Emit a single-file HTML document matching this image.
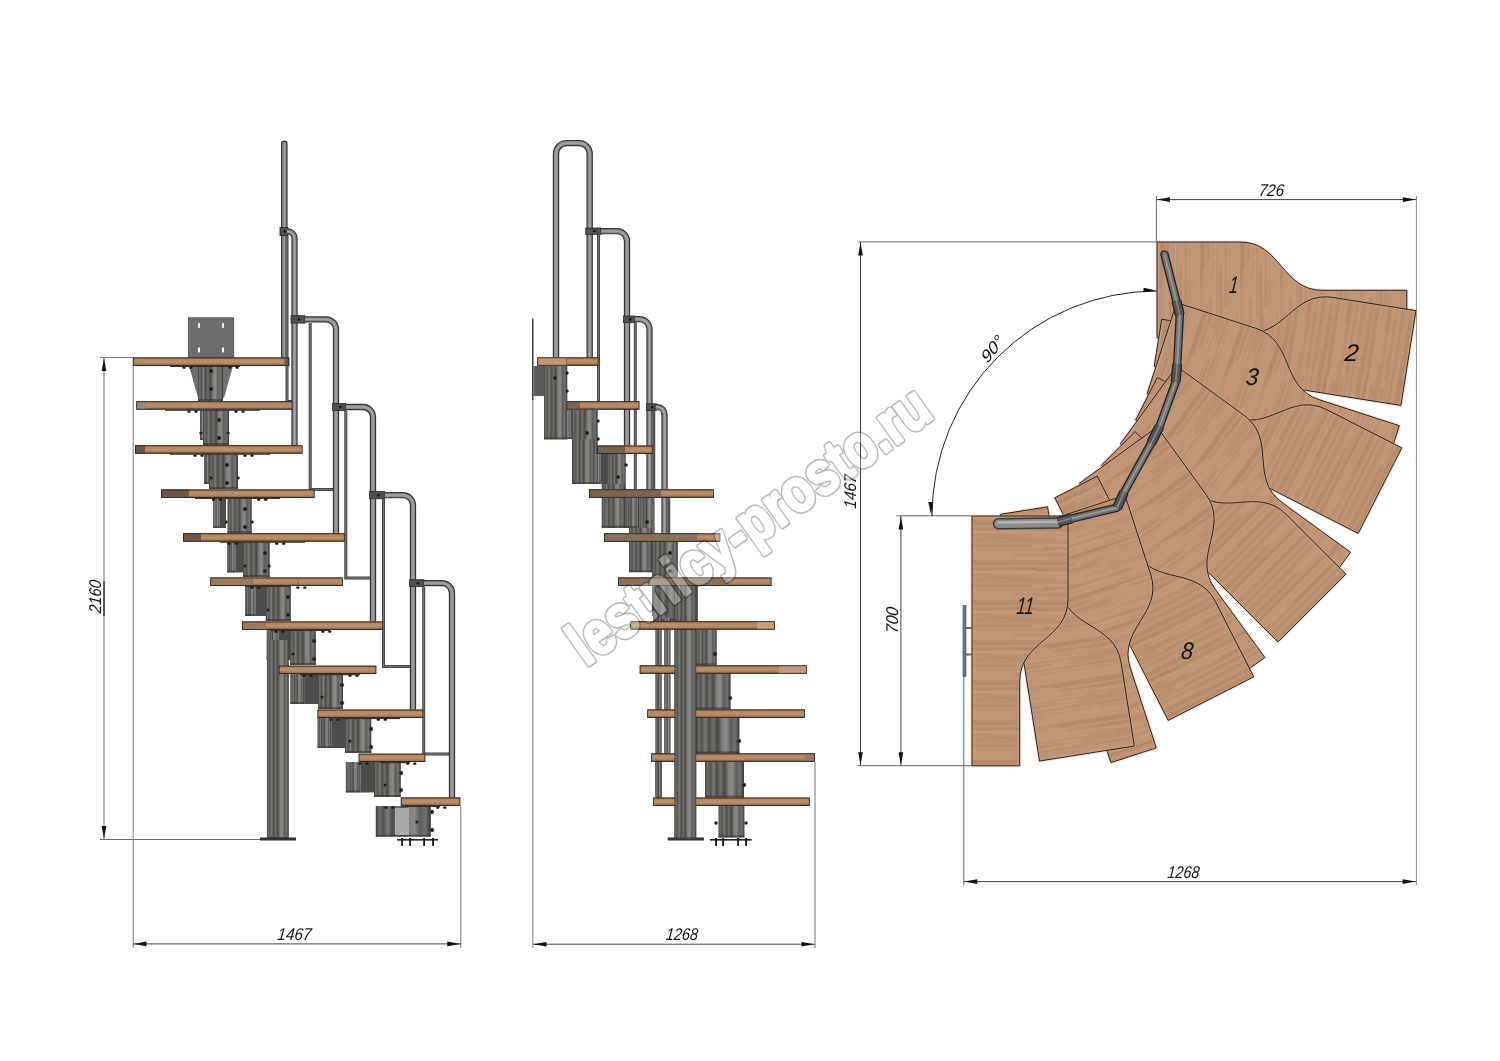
<!DOCTYPE html>
<html><head><meta charset="utf-8"><style>
html,body{margin:0;padding:0;background:#fff;}
body{width:1500px;height:1061px;overflow:hidden;}
svg{display:block;will-change:transform;}
</style></head><body>
<svg width="1500" height="1061" viewBox="0 0 1500 1061">
<rect width="1500" height="1061" fill="#fff"/>

<defs>
 <linearGradient id="tr" x1="0" y1="0" x2="0" y2="1">
  <stop offset="0" stop-color="#6a5848"/><stop offset="0.18" stop-color="#b08660"/>
  <stop offset="0.5" stop-color="#bb8f69"/><stop offset="0.8" stop-color="#aa7f5c"/>
  <stop offset="1" stop-color="#463428"/>
 </linearGradient>
 <linearGradient id="trd" x1="0" y1="0" x2="0" y2="1">
  <stop offset="0" stop-color="#6f6052"/><stop offset="0.2" stop-color="#8c6e58"/>
  <stop offset="0.8" stop-color="#86674f"/><stop offset="1" stop-color="#4a3a2e"/>
 </linearGradient>
 <linearGradient id="met" x1="0" y1="0" x2="1" y2="0">
  <stop offset="0" stop-color="#3e3e3c"/><stop offset="0.06" stop-color="#6c6c6a"/>
  <stop offset="0.14" stop-color="#565552"/><stop offset="0.22" stop-color="#7c7b79"/>
  <stop offset="0.3" stop-color="#4d4c49"/><stop offset="0.4" stop-color="#706f6d"/>
  <stop offset="0.5" stop-color="#4a4945"/><stop offset="0.6" stop-color="#7e7d7b"/>
  <stop offset="0.7" stop-color="#8c8b89"/><stop offset="0.8" stop-color="#5e5d5b"/>
  <stop offset="0.9" stop-color="#737270"/><stop offset="1" stop-color="#383735"/>
 </linearGradient>
 <linearGradient id="metd" x1="0" y1="0" x2="1" y2="0">
  <stop offset="0" stop-color="#3f3f3d"/><stop offset="0.3" stop-color="#55544f"/>
  <stop offset="0.7" stop-color="#4e4d4a"/><stop offset="1" stop-color="#3a3937"/>
 </linearGradient>
 <linearGradient id="plate" x1="0" y1="0" x2="1" y2="0">
  <stop offset="0" stop-color="#6a6a6a"/><stop offset="1" stop-color="#777"/>
 </linearGradient>
 <linearGradient id="hr" x1="0" y1="0" x2="0" y2="1">
  <stop offset="0" stop-color="#4a4a4a"/><stop offset="0.45" stop-color="#9a9a9a"/><stop offset="1" stop-color="#3c3c3c"/>
 </linearGradient>
</defs>

<line x1="100" y1="357.5" x2="133" y2="357.5" stroke="#777" stroke-width="1.0"/>
<line x1="104" y1="357.5" x2="104" y2="839.5" stroke="#888" stroke-width="1.2"/>
<line x1="104" y1="581" x2="104" y2="616" stroke="#222" stroke-width="1.2"/>
<polygon points="104.0,358.0 106.3,371.0 101.7,371.0" fill="#111"/>
<polygon points="104.0,839.0 101.7,826.0 106.3,826.0" fill="#111"/>
<line x1="100" y1="839.5" x2="262" y2="839.5" stroke="#666" stroke-width="1.0"/>
<line x1="133.2" y1="357.5" x2="133.2" y2="948" stroke="#888" stroke-width="1.1"/>
<line x1="460.8" y1="806" x2="460.8" y2="948" stroke="#777" stroke-width="1.0"/>
<line x1="133" y1="943.9" x2="460.8" y2="943.9" stroke="#444" stroke-width="1.0"/>
<polygon points="133.5,943.9 146.5,941.6 146.5,946.2" fill="#111"/>
<polygon points="460.3,943.9 447.3,946.2 447.3,941.6" fill="#111"/>
<text x="0" y="0" transform="translate(294,940) rotate(0) skewX(-6)" font-family="Liberation Sans" font-style="italic" font-size="17" fill="#111" text-anchor="middle" textLength="34" lengthAdjust="spacingAndGlyphs">1467</text>
<text x="0" y="0" transform="translate(101.3,597) rotate(-90) skewX(-6)" font-family="Liberation Sans" font-style="italic" font-size="17" fill="#111" text-anchor="middle" textLength="33" lengthAdjust="spacingAndGlyphs">2160</text>
<rect x="188.3" y="317.8" width="45.5" height="39.7" fill="#6c6c6c" stroke="#444" stroke-width="0.7"/>
<ellipse cx="199" cy="325.4" rx="1.7" ry="3.2" fill="#fff" stroke="#333" stroke-width="0.6"/>
<ellipse cx="223" cy="325.4" rx="1.7" ry="3.2" fill="#fff" stroke="#333" stroke-width="0.6"/>
<ellipse cx="199" cy="350" rx="1.7" ry="3.2" fill="#fff" stroke="#333" stroke-width="0.6"/>
<ellipse cx="223" cy="350" rx="1.7" ry="3.2" fill="#fff" stroke="#333" stroke-width="0.6"/>
<polygon points="189,366 233,366 224,398 198,398" fill="#6e6e6e"/>
<rect x="198" y="366" width="25.0" height="35.0" fill="url(#met)"/>
<rect x="198" y="399.0" width="25.0" height="2" fill="#333" opacity="0.6"/>
<circle cx="211" cy="371" r="1.95" fill="#1a1a1a" stroke="#555" stroke-width="0.5"/>
<circle cx="211" cy="389" r="1.95" fill="#1a1a1a" stroke="#555" stroke-width="0.5"/>
<rect x="200.0" y="410.0" width="3.5" height="30.0" fill="url(#met)"/>
<rect x="200.0" y="438.0" width="3.5" height="2" fill="#333" opacity="0.6"/>
<rect x="203.5" y="410.0" width="3.5" height="30.0" fill="#4d4c4a"/>
<rect x="203" y="410" width="26.0" height="35.0" fill="url(#met)"/>
<rect x="203" y="443.0" width="26.0" height="2" fill="#333" opacity="0.6"/>
<circle cx="219" cy="420" r="1.95" fill="#1a1a1a" stroke="#555" stroke-width="0.5"/>
<circle cx="219" cy="438" r="1.95" fill="#1a1a1a" stroke="#555" stroke-width="0.5"/>
<circle cx="201" cy="433" r="1.56" fill="#1a1a1a" stroke="#555" stroke-width="0.5"/>
<circle cx="228" cy="433" r="1.56" fill="#1a1a1a" stroke="#555" stroke-width="0.5"/>
<rect x="204.0" y="454.0" width="5.5" height="30.0" fill="url(#met)"/>
<rect x="204.0" y="482.0" width="5.5" height="2" fill="#333" opacity="0.6"/>
<rect x="209.5" y="454.0" width="5.5" height="30.0" fill="#4d4c4a"/>
<rect x="209" y="454" width="29.0" height="35.0" fill="url(#met)"/>
<rect x="209" y="487.0" width="29.0" height="2" fill="#333" opacity="0.6"/>
<circle cx="227" cy="465" r="1.95" fill="#1a1a1a" stroke="#555" stroke-width="0.5"/>
<circle cx="227" cy="483" r="1.95" fill="#1a1a1a" stroke="#555" stroke-width="0.5"/>
<circle cx="211" cy="478" r="1.56" fill="#1a1a1a" stroke="#555" stroke-width="0.5"/>
<circle cx="238" cy="478" r="1.56" fill="#1a1a1a" stroke="#555" stroke-width="0.5"/>
<rect x="213.0" y="498.0" width="6.5" height="30.0" fill="url(#met)"/>
<rect x="213.0" y="526.0" width="6.5" height="2" fill="#333" opacity="0.6"/>
<rect x="219.5" y="498.0" width="6.5" height="30.0" fill="#4d4c4a"/>
<rect x="227.5" y="498" width="24.2" height="35.0" fill="url(#met)"/>
<rect x="227.5" y="531.0" width="24.2" height="2" fill="#333" opacity="0.6"/>
<circle cx="245" cy="509" r="1.95" fill="#1a1a1a" stroke="#555" stroke-width="0.5"/>
<circle cx="245" cy="527" r="1.95" fill="#1a1a1a" stroke="#555" stroke-width="0.5"/>
<circle cx="226" cy="522" r="1.56" fill="#1a1a1a" stroke="#555" stroke-width="0.5"/>
<circle cx="252" cy="522" r="1.56" fill="#1a1a1a" stroke="#555" stroke-width="0.5"/>
<rect x="227.0" y="542.0" width="8.5" height="30.5" fill="url(#met)"/>
<rect x="227.0" y="570.5" width="8.5" height="2" fill="#333" opacity="0.6"/>
<rect x="235.5" y="542.0" width="8.5" height="30.5" fill="#4d4c4a"/>
<rect x="243" y="542" width="26.7" height="35.0" fill="url(#met)"/>
<rect x="243" y="575.0" width="26.7" height="2" fill="#333" opacity="0.6"/>
<circle cx="265" cy="553" r="1.95" fill="#1a1a1a" stroke="#555" stroke-width="0.5"/>
<circle cx="265" cy="571" r="1.95" fill="#1a1a1a" stroke="#555" stroke-width="0.5"/>
<circle cx="245" cy="566" r="1.56" fill="#1a1a1a" stroke="#555" stroke-width="0.5"/>
<circle cx="269" cy="566" r="1.56" fill="#1a1a1a" stroke="#555" stroke-width="0.5"/>
<rect x="245.0" y="586.0" width="10.5" height="30.0" fill="url(#met)"/>
<rect x="245.0" y="614.0" width="10.5" height="2" fill="#333" opacity="0.6"/>
<rect x="255.5" y="586.0" width="10.5" height="30.0" fill="#4d4c4a"/>
<rect x="265.8" y="586" width="25.0" height="35.0" fill="url(#met)"/>
<rect x="265.8" y="619.0" width="25.0" height="2" fill="#333" opacity="0.6"/>
<circle cx="288" cy="597" r="1.95" fill="#1a1a1a" stroke="#555" stroke-width="0.5"/>
<circle cx="288" cy="615" r="1.95" fill="#1a1a1a" stroke="#555" stroke-width="0.5"/>
<circle cx="268" cy="610" r="1.56" fill="#1a1a1a" stroke="#555" stroke-width="0.5"/>
<rect x="266.7" y="630.0" width="11.7" height="30.0" fill="url(#met)"/>
<rect x="266.7" y="658.0" width="11.7" height="2" fill="#333" opacity="0.6"/>
<rect x="278.4" y="630.0" width="11.6" height="30.0" fill="#4d4c4a"/>
<rect x="290" y="630" width="25.8" height="35.0" fill="url(#met)"/>
<rect x="290" y="663.0" width="25.8" height="2" fill="#333" opacity="0.6"/>
<circle cx="314" cy="641" r="1.95" fill="#1a1a1a" stroke="#555" stroke-width="0.5"/>
<circle cx="314" cy="659" r="1.95" fill="#1a1a1a" stroke="#555" stroke-width="0.5"/>
<circle cx="293" cy="654" r="1.56" fill="#1a1a1a" stroke="#555" stroke-width="0.5"/>
<rect x="290.3" y="674.0" width="13.8" height="30.0" fill="url(#met)"/>
<rect x="290.3" y="702.0" width="13.8" height="2" fill="#333" opacity="0.6"/>
<rect x="304.1" y="674.0" width="13.9" height="30.0" fill="#4d4c4a"/>
<rect x="318" y="674" width="25.0" height="35.0" fill="url(#met)"/>
<rect x="318" y="707.0" width="25.0" height="2" fill="#333" opacity="0.6"/>
<circle cx="342" cy="685" r="1.95" fill="#1a1a1a" stroke="#555" stroke-width="0.5"/>
<circle cx="342" cy="703" r="1.95" fill="#1a1a1a" stroke="#555" stroke-width="0.5"/>
<circle cx="322" cy="697" r="1.56" fill="#1a1a1a" stroke="#555" stroke-width="0.5"/>
<rect x="317.5" y="718.0" width="13.7" height="30.0" fill="url(#met)"/>
<rect x="317.5" y="746.0" width="13.7" height="2" fill="#333" opacity="0.6"/>
<rect x="331.2" y="718.0" width="13.8" height="30.0" fill="#4d4c4a"/>
<rect x="345" y="718" width="26.3" height="35.0" fill="url(#met)"/>
<rect x="345" y="751.0" width="26.3" height="2" fill="#333" opacity="0.6"/>
<circle cx="371" cy="729" r="1.95" fill="#1a1a1a" stroke="#555" stroke-width="0.5"/>
<circle cx="371" cy="747" r="1.95" fill="#1a1a1a" stroke="#555" stroke-width="0.5"/>
<circle cx="350" cy="741" r="1.56" fill="#1a1a1a" stroke="#555" stroke-width="0.5"/>
<rect x="345.8" y="762.0" width="14.6" height="30.5" fill="url(#met)"/>
<rect x="345.8" y="790.5" width="14.6" height="2" fill="#333" opacity="0.6"/>
<rect x="360.4" y="762.0" width="14.6" height="30.5" fill="#4d4c4a"/>
<rect x="374" y="762" width="26.8" height="35.0" fill="url(#met)"/>
<rect x="374" y="795.0" width="26.8" height="2" fill="#333" opacity="0.6"/>
<circle cx="401" cy="773" r="1.95" fill="#1a1a1a" stroke="#555" stroke-width="0.5"/>
<circle cx="401" cy="790" r="1.95" fill="#1a1a1a" stroke="#555" stroke-width="0.5"/>
<circle cx="385" cy="785" r="1.56" fill="#1a1a1a" stroke="#555" stroke-width="0.5"/>
<rect x="375.8" y="806" width="55.0" height="30.7" fill="url(#met)"/>
<rect x="375.8" y="834.7" width="55.0" height="2" fill="#333" opacity="0.6"/>
<rect x="395" y="808" width="14" height="27" fill="#a9a9a9"/>
<circle cx="432" cy="812" r="1.95" fill="#1a1a1a" stroke="#555" stroke-width="0.5"/>
<circle cx="432" cy="830" r="1.95" fill="#1a1a1a" stroke="#555" stroke-width="0.5"/>
<circle cx="417" cy="822" r="1.56" fill="#1a1a1a" stroke="#555" stroke-width="0.5"/>
<rect x="266.9" y="640" width="21.9" height="199.0" fill="url(#met)"/>
<rect x="266.9" y="837.0" width="21.9" height="2" fill="#333" opacity="0.6"/>
<rect x="260" y="837.5" width="36" height="3" fill="#333"/>
<rect x="397" y="839" width="41" height="1.6" fill="#222"/>
<rect x="401.2" y="838" width="1.8" height="8" fill="#111"/>
<rect x="409.2" y="838" width="1.8" height="8" fill="#111"/>
<rect x="423.2" y="838" width="1.8" height="8" fill="#111"/>
<rect x="432.2" y="838" width="1.8" height="8" fill="#111"/>
<path d="M284.3,357.5 V143.8" fill="none" stroke="#353535" stroke-width="6.6" stroke-linecap="round"/>
<path d="M284.3,357.5 V143.8" fill="none" stroke="#8a8a8a" stroke-width="4.2" stroke-linecap="round"/>
<path d="M284.6,357.5 V144" fill="none" stroke="#a4a4a4" stroke-width="1.3"/>
<rect x="280" y="227.4" width="8" height="8.0" fill="#505050" stroke="#2a2a2a" stroke-width="0.8"/>
<circle cx="285.0" cy="231.4" r="1.2" fill="#111"/>
<path d="M287,236 V401.6 H294" fill="none" stroke="#3e3e3e" stroke-width="3.0"/>
<path d="M287,236 V401.6 H294" fill="none" stroke="#6e6e6e" stroke-width="1.4"/>
<path d="M287,231.4 H287.5 a7,7 0 0 1 7,7 V445.3" fill="none" stroke="#353535" stroke-width="6.3" stroke-linecap="butt"/>
<path d="M287,231.4 H287.5 a7,7 0 0 1 7,7 V445.3" fill="none" stroke="#8c8c8c" stroke-width="3.9"/>
<path d="M287,231.4 H287.5 a7,7 0 0 1 7,7 V445.3" fill="none" stroke="#a6a6a6" stroke-width="1.3"/>
<rect x="291" y="315.7" width="14" height="7.400000000000034" fill="#505050" stroke="#2a2a2a" stroke-width="0.8"/>
<circle cx="299.0" cy="319.4" r="1.2" fill="#111"/>
<path d="M310.2,323 V489.5 H333" fill="none" stroke="#3e3e3e" stroke-width="3.0"/>
<path d="M310.2,323 V489.5 H333" fill="none" stroke="#6e6e6e" stroke-width="1.4"/>
<path d="M305,319.4 H326 a10,10 0 0 1 10,10 V533.3" fill="none" stroke="#353535" stroke-width="6.3" stroke-linecap="butt"/>
<path d="M305,319.4 H326 a10,10 0 0 1 10,10 V533.3" fill="none" stroke="#8c8c8c" stroke-width="3.9"/>
<path d="M305,319.4 H326 a10,10 0 0 1 10,10 V533.3" fill="none" stroke="#a6a6a6" stroke-width="1.3"/>
<rect x="332.6" y="403.4" width="13.399999999999977" height="7.2000000000000455" fill="#505050" stroke="#2a2a2a" stroke-width="0.8"/>
<circle cx="340.3" cy="407.0" r="1.2" fill="#111"/>
<path d="M345.8,411 V578 H370" fill="none" stroke="#3e3e3e" stroke-width="3.0"/>
<path d="M345.8,411 V578 H370" fill="none" stroke="#6e6e6e" stroke-width="1.4"/>
<path d="M346,407 H363 a10,10 0 0 1 10,10 V621.5" fill="none" stroke="#353535" stroke-width="6.3" stroke-linecap="butt"/>
<path d="M346,407 H363 a10,10 0 0 1 10,10 V621.5" fill="none" stroke="#8c8c8c" stroke-width="3.9"/>
<path d="M346,407 H363 a10,10 0 0 1 10,10 V621.5" fill="none" stroke="#a6a6a6" stroke-width="1.3"/>
<rect x="369.6" y="491.6" width="15.199999999999989" height="7.199999999999989" fill="#505050" stroke="#2a2a2a" stroke-width="0.8"/>
<circle cx="378.2" cy="495.2" r="1.2" fill="#111"/>
<path d="M383.5,499 V666.5 H410.8" fill="none" stroke="#3e3e3e" stroke-width="3.0"/>
<path d="M383.5,499 V666.5 H410.8" fill="none" stroke="#6e6e6e" stroke-width="1.4"/>
<path d="M385,495.2 H403 a10,10 0 0 1 10,10 V709.6" fill="none" stroke="#353535" stroke-width="6.3" stroke-linecap="butt"/>
<path d="M385,495.2 H403 a10,10 0 0 1 10,10 V709.6" fill="none" stroke="#8c8c8c" stroke-width="3.9"/>
<path d="M385,495.2 H403 a10,10 0 0 1 10,10 V709.6" fill="none" stroke="#a6a6a6" stroke-width="1.3"/>
<rect x="409.7" y="579.7" width="14.300000000000011" height="6.899999999999977" fill="#505050" stroke="#2a2a2a" stroke-width="0.8"/>
<circle cx="417.9" cy="583.2" r="1.2" fill="#111"/>
<path d="M423.7,587 V754 H449" fill="none" stroke="#3e3e3e" stroke-width="3.0"/>
<path d="M423.7,587 V754 H449" fill="none" stroke="#6e6e6e" stroke-width="1.4"/>
<path d="M424,583.1 H442 a10,10 0 0 1 10,10 V797.5" fill="none" stroke="#353535" stroke-width="6.3" stroke-linecap="butt"/>
<path d="M424,583.1 H442 a10,10 0 0 1 10,10 V797.5" fill="none" stroke="#8c8c8c" stroke-width="3.9"/>
<path d="M424,583.1 H442 a10,10 0 0 1 10,10 V797.5" fill="none" stroke="#a6a6a6" stroke-width="1.3"/>
<rect x="133" y="357.5" width="156.2" height="8.3" fill="url(#tr)"/>
<rect x="284.5" y="357.5" width="4.7" height="8.3" fill="#6e5a48"/>
<rect x="133.4" y="357.9" width="155.4" height="7.5" fill="none" stroke="#2a1e16" stroke-width="0.8"/>
<rect x="170" y="365.8" width="70" height="1.2" fill="#333"/>
<rect x="136.3" y="401.3" width="156.2" height="8.3" fill="url(#tr)"/>
<rect x="136.3" y="401.3" width="9.2" height="8.3" fill="#8f8a82"/>
<rect x="136.7" y="401.7" width="155.4" height="7.5" fill="none" stroke="#2a1e16" stroke-width="0.8"/>
<rect x="165" y="409.6" width="95" height="1.2" fill="#333"/>
<rect x="135" y="445.3" width="167.5" height="8.3" fill="url(#tr)"/>
<rect x="135" y="445.3" width="10.0" height="8.3" fill="#6a5545"/>
<rect x="135.4" y="445.7" width="166.7" height="7.5" fill="none" stroke="#2a1e16" stroke-width="0.8"/>
<rect x="170" y="453.6" width="100" height="1.2" fill="#333"/>
<rect x="161.3" y="489.5" width="153.2" height="8.3" fill="url(#tr)"/>
<rect x="161.3" y="489.5" width="27.7" height="8.3" fill="#6d5848"/>
<rect x="161.7" y="489.9" width="152.4" height="7.5" fill="none" stroke="#2a1e16" stroke-width="0.8"/>
<rect x="195" y="497.8" width="85" height="1.2" fill="#333"/>
<rect x="183" y="533.3" width="161.7" height="8.3" fill="url(#tr)"/>
<rect x="183" y="533.3" width="18.0" height="8.3" fill="#6d5848"/>
<rect x="183.4" y="533.7" width="160.9" height="7.5" fill="none" stroke="#2a1e16" stroke-width="0.8"/>
<rect x="220" y="541.6" width="85" height="1.2" fill="#333"/>
<rect x="210.3" y="577.5" width="132.5" height="8.3" fill="url(#tr)"/>
<rect x="210.3" y="577.5" width="42.2" height="8.3" fill="#9e7a5c"/>
<rect x="210.7" y="577.9" width="131.7" height="7.5" fill="none" stroke="#2a1e16" stroke-width="0.8"/>
<line x1="252.5" y1="577.5" x2="252.5" y2="585.8" stroke="#7a5e48" stroke-width="0.8"/><line x1="298" y1="577.5" x2="298" y2="585.8" stroke="#7a5e48" stroke-width="0.8"/>
<rect x="245" y="585.8" width="45" height="1.2" fill="#333"/>
<rect x="242" y="621.5" width="141.0" height="8.3" fill="url(#tr)"/>
<rect x="242" y="621.5" width="24.0" height="8.3" fill="#9b7a62"/>
<rect x="242.4" y="621.9" width="140.2" height="7.5" fill="none" stroke="#2a1e16" stroke-width="0.8"/>
<rect x="270" y="629.8" width="60" height="1.2" fill="#333"/>
<rect x="278.8" y="665.7" width="97.5" height="8.3" fill="url(#tr)"/>
<rect x="279.2" y="666.1" width="96.7" height="7.5" fill="none" stroke="#2a1e16" stroke-width="0.8"/>
<rect x="300" y="674" width="60" height="1.2" fill="#333"/>
<rect x="317.5" y="709.6" width="105.8" height="8.3" fill="url(#tr)"/>
<rect x="317.9" y="710.0" width="105.0" height="7.5" fill="none" stroke="#2a1e16" stroke-width="0.8"/>
<rect x="340" y="717.9" width="60" height="1.2" fill="#333"/>
<rect x="358.7" y="753.7" width="66.6" height="8.3" fill="url(#tr)"/>
<rect x="359.1" y="754.1" width="65.8" height="7.5" fill="none" stroke="#2a1e16" stroke-width="0.8"/>
<rect x="380" y="762" width="30" height="1.2" fill="#333"/>
<rect x="400.8" y="797.5" width="59.5" height="8.3" fill="url(#tr)"/>
<rect x="401.2" y="797.9" width="58.7" height="7.5" fill="none" stroke="#2a1e16" stroke-width="0.8"/>
<rect x="405" y="805.8" width="35" height="1.2" fill="#333"/>
<rect x="182.4" y="366.5" width="3.2" height="2.2" rx="0.8" fill="#1a1a1a"/>
<rect x="189.4" y="366.5" width="3.2" height="2.2" rx="0.8" fill="#1a1a1a"/>
<rect x="228.4" y="366.5" width="3.2" height="2.2" rx="0.8" fill="#1a1a1a"/>
<rect x="235.4" y="366.5" width="3.2" height="2.2" rx="0.8" fill="#1a1a1a"/>
<rect x="187.4" y="410.5" width="3.2" height="2.2" rx="0.8" fill="#1a1a1a"/>
<rect x="194.4" y="410.5" width="3.2" height="2.2" rx="0.8" fill="#1a1a1a"/>
<rect x="234.4" y="410.5" width="3.2" height="2.2" rx="0.8" fill="#1a1a1a"/>
<rect x="241.4" y="410.5" width="3.2" height="2.2" rx="0.8" fill="#1a1a1a"/>
<rect x="193.4" y="454.5" width="3.2" height="2.2" rx="0.8" fill="#1a1a1a"/>
<rect x="200.4" y="454.5" width="3.2" height="2.2" rx="0.8" fill="#1a1a1a"/>
<rect x="243.4" y="454.5" width="3.2" height="2.2" rx="0.8" fill="#1a1a1a"/>
<rect x="250.4" y="454.5" width="3.2" height="2.2" rx="0.8" fill="#1a1a1a"/>
<rect x="211.9" y="498.5" width="3.2" height="2.2" rx="0.8" fill="#1a1a1a"/>
<rect x="218.9" y="498.5" width="3.2" height="2.2" rx="0.8" fill="#1a1a1a"/>
<rect x="257.1" y="498.5" width="3.2" height="2.2" rx="0.8" fill="#1a1a1a"/>
<rect x="264.1" y="498.5" width="3.2" height="2.2" rx="0.8" fill="#1a1a1a"/>
<rect x="227.4" y="542.5" width="3.2" height="2.2" rx="0.8" fill="#1a1a1a"/>
<rect x="234.4" y="542.5" width="3.2" height="2.2" rx="0.8" fill="#1a1a1a"/>
<rect x="275.1" y="542.5" width="3.2" height="2.2" rx="0.8" fill="#1a1a1a"/>
<rect x="282.1" y="542.5" width="3.2" height="2.2" rx="0.8" fill="#1a1a1a"/>
<rect x="250.2" y="586.5" width="3.2" height="2.2" rx="0.8" fill="#1a1a1a"/>
<rect x="257.2" y="586.5" width="3.2" height="2.2" rx="0.8" fill="#1a1a1a"/>
<rect x="296.2" y="586.5" width="3.2" height="2.2" rx="0.8" fill="#1a1a1a"/>
<rect x="303.2" y="586.5" width="3.2" height="2.2" rx="0.8" fill="#1a1a1a"/>
<rect x="274.4" y="630.5" width="3.2" height="2.2" rx="0.8" fill="#1a1a1a"/>
<rect x="281.4" y="630.5" width="3.2" height="2.2" rx="0.8" fill="#1a1a1a"/>
<rect x="321.2" y="630.5" width="3.2" height="2.2" rx="0.8" fill="#1a1a1a"/>
<rect x="328.2" y="630.5" width="3.2" height="2.2" rx="0.8" fill="#1a1a1a"/>
<rect x="302.4" y="674.5" width="3.2" height="2.2" rx="0.8" fill="#1a1a1a"/>
<rect x="309.4" y="674.5" width="3.2" height="2.2" rx="0.8" fill="#1a1a1a"/>
<rect x="348.4" y="674.5" width="3.2" height="2.2" rx="0.8" fill="#1a1a1a"/>
<rect x="355.4" y="674.5" width="3.2" height="2.2" rx="0.8" fill="#1a1a1a"/>
<rect x="329.4" y="718.5" width="3.2" height="2.2" rx="0.8" fill="#1a1a1a"/>
<rect x="336.4" y="718.5" width="3.2" height="2.2" rx="0.8" fill="#1a1a1a"/>
<rect x="376.7" y="718.5" width="3.2" height="2.2" rx="0.8" fill="#1a1a1a"/>
<rect x="383.7" y="718.5" width="3.2" height="2.2" rx="0.8" fill="#1a1a1a"/>
<rect x="358.4" y="762.5" width="3.2" height="2.2" rx="0.8" fill="#1a1a1a"/>
<rect x="365.4" y="762.5" width="3.2" height="2.2" rx="0.8" fill="#1a1a1a"/>
<rect x="406.2" y="762.5" width="3.2" height="2.2" rx="0.8" fill="#1a1a1a"/>
<rect x="413.2" y="762.5" width="3.2" height="2.2" rx="0.8" fill="#1a1a1a"/>
<rect x="384.4" y="806.5" width="3.2" height="2.2" rx="0.8" fill="#1a1a1a"/>
<rect x="391.4" y="806.5" width="3.2" height="2.2" rx="0.8" fill="#1a1a1a"/>
<rect x="436.2" y="806.5" width="3.2" height="2.2" rx="0.8" fill="#1a1a1a"/>
<rect x="443.2" y="806.5" width="3.2" height="2.2" rx="0.8" fill="#1a1a1a"/>
<line x1="532.8" y1="400" x2="532.8" y2="948" stroke="#888" stroke-width="1.1"/>
<line x1="532.8" y1="318.4" x2="532.8" y2="400" stroke="#222" stroke-width="1.3"/>
<line x1="815" y1="762" x2="815" y2="948" stroke="#777" stroke-width="1.0"/>
<line x1="533" y1="944.2" x2="815" y2="944.2" stroke="#444" stroke-width="1.0"/>
<polygon points="533.5,944.2 546.5,941.9 546.5,946.5" fill="#111"/>
<polygon points="814.5,944.2 801.5,946.5 801.5,941.9" fill="#111"/>
<text x="0" y="0" transform="translate(681.5,940) rotate(0) skewX(-6)" font-family="Liberation Sans" font-style="italic" font-size="17" fill="#111" text-anchor="middle" textLength="32" lengthAdjust="spacingAndGlyphs">1268</text>
<rect x="533.5" y="366" width="12" height="30" fill="#5d5d5d"/>
<rect x="544" y="366" width="23.3" height="73.4" fill="url(#met)"/>
<rect x="544" y="437.4" width="23.3" height="2" fill="#333" opacity="0.6"/>
<circle cx="555" cy="378" r="1.95" fill="#1a1a1a" stroke="#555" stroke-width="0.5"/>
<circle cx="567" cy="373" r="1.56" fill="#1a1a1a" stroke="#555" stroke-width="0.5"/>
<circle cx="567" cy="391" r="1.56" fill="#1a1a1a" stroke="#555" stroke-width="0.5"/>
<rect x="563.0" y="410.0" width="7.4" height="29.0" fill="url(#met)"/>
<rect x="563.0" y="437.0" width="7.4" height="2" fill="#333" opacity="0.6"/>
<rect x="570.4" y="410.0" width="7.4" height="29.0" fill="#4d4c4a"/>
<rect x="572" y="410" width="25.7" height="74.0" fill="url(#met)"/>
<rect x="572" y="482.0" width="25.7" height="2" fill="#333" opacity="0.6"/>
<circle cx="587" cy="433" r="1.95" fill="#1a1a1a" stroke="#555" stroke-width="0.5"/>
<circle cx="598" cy="421" r="1.56" fill="#1a1a1a" stroke="#555" stroke-width="0.5"/>
<circle cx="598" cy="439" r="1.56" fill="#1a1a1a" stroke="#555" stroke-width="0.5"/>
<rect x="572.8" y="439.4" width="21.7" height="44.6" fill="url(#met)"/>
<rect x="572.8" y="482.0" width="21.7" height="2" fill="#333" opacity="0.6"/>
<rect x="594.0" y="454.0" width="6.5" height="30.0" fill="url(#met)"/>
<rect x="594.0" y="482.0" width="6.5" height="2" fill="#333" opacity="0.6"/>
<rect x="600.5" y="454.0" width="6.5" height="30.0" fill="#4d4c4a"/>
<rect x="607" y="454" width="18.7" height="74.0" fill="url(#met)"/>
<rect x="607" y="526.0" width="18.7" height="2" fill="#333" opacity="0.6"/>
<circle cx="618" cy="477" r="1.95" fill="#1a1a1a" stroke="#555" stroke-width="0.5"/>
<circle cx="626" cy="465" r="1.56" fill="#1a1a1a" stroke="#555" stroke-width="0.5"/>
<rect x="601.7" y="484" width="23.3" height="43.8" fill="url(#met)"/>
<rect x="601.7" y="525.8" width="23.3" height="2" fill="#333" opacity="0.6"/>
<rect x="625.0" y="498.0" width="12.5" height="30.0" fill="url(#met)"/>
<rect x="625.0" y="526.0" width="12.5" height="2" fill="#333" opacity="0.6"/>
<rect x="637.5" y="498.0" width="12.5" height="30.0" fill="#4d4c4a"/>
<rect x="638.5" y="498" width="16.0" height="74.0" fill="url(#met)"/>
<rect x="638.5" y="570.0" width="16.0" height="2" fill="#333" opacity="0.6"/>
<circle cx="647" cy="522" r="1.95" fill="#1a1a1a" stroke="#555" stroke-width="0.5"/>
<rect x="629" y="528" width="23.0" height="44.2" fill="url(#met)"/>
<rect x="629" y="570.2" width="23.0" height="2" fill="#333" opacity="0.6"/>
<rect x="652" y="542" width="25.8" height="74.0" fill="url(#met)"/>
<rect x="652" y="614.0" width="25.8" height="2" fill="#333" opacity="0.6"/>
<circle cx="670" cy="553" r="1.95" fill="#1a1a1a" stroke="#555" stroke-width="0.5"/>
<circle cx="670" cy="571" r="1.95" fill="#1a1a1a" stroke="#555" stroke-width="0.5"/>
<rect x="653" y="586" width="44.8" height="35.0" fill="url(#met)"/>
<rect x="653" y="619.0" width="44.8" height="2" fill="#333" opacity="0.6"/>
<rect x="655.3" y="617" width="6.4" height="181" fill="url(#met)"/>
<rect x="664" y="617" width="6.5" height="137" fill="url(#met)"/>
<rect x="674.5" y="586" width="21.7" height="253.0" fill="url(#met)"/>
<rect x="674.5" y="837.0" width="21.7" height="2" fill="#333" opacity="0.6"/>
<rect x="667.7" y="837.5" width="36.3" height="3" fill="#333"/>
<rect x="696" y="629.6" width="20.7" height="35.8" fill="url(#met)"/>
<rect x="696" y="663.4" width="20.7" height="2" fill="#333" opacity="0.6"/>
<circle cx="715" cy="654" r="1.95" fill="#1a1a1a" stroke="#555" stroke-width="0.5"/>
<rect x="696" y="673.7" width="34.6" height="35.8" fill="url(#met)"/>
<rect x="696" y="707.5" width="34.6" height="2" fill="#333" opacity="0.6"/>
<circle cx="730" cy="698" r="1.95" fill="#1a1a1a" stroke="#555" stroke-width="0.5"/>
<rect x="696" y="717.8" width="43.4" height="35.6" fill="url(#met)"/>
<rect x="696" y="751.4" width="43.4" height="2" fill="#333" opacity="0.6"/>
<circle cx="739" cy="741" r="1.95" fill="#1a1a1a" stroke="#555" stroke-width="0.5"/>
<rect x="705" y="761.9" width="39.0" height="35.7" fill="url(#met)"/>
<rect x="705" y="795.6" width="39.0" height="2" fill="#333" opacity="0.6"/>
<circle cx="744" cy="785" r="1.95" fill="#1a1a1a" stroke="#555" stroke-width="0.5"/>
<rect x="718.5" y="806" width="25.9" height="31.5" fill="url(#met)"/>
<rect x="718.5" y="835.5" width="25.9" height="2" fill="#333" opacity="0.6"/>
<circle cx="716" cy="823" r="1.56" fill="#1a1a1a" stroke="#555" stroke-width="0.5"/>
<circle cx="746" cy="823" r="1.56" fill="#1a1a1a" stroke="#555" stroke-width="0.5"/>
<rect x="710" y="839" width="41.7" height="1.6" fill="#222"/>
<rect x="715.2" y="838" width="1.8" height="8" fill="#111"/>
<rect x="722.2" y="838" width="1.8" height="8" fill="#111"/>
<rect x="737.2" y="838" width="1.8" height="8" fill="#111"/>
<rect x="745.2" y="838" width="1.8" height="8" fill="#111"/>
<path d="M556,357.4 V153.7 a10.6,10.6 0 0 1 10.6,-10.6 H579.1 a10.6,10.6 0 0 1 10.6,10.6 V357.4" fill="none" stroke="#353535" stroke-width="6.4" stroke-linecap="butt"/>
<path d="M556,357.4 V153.7 a10.6,10.6 0 0 1 10.6,-10.6 H579.1 a10.6,10.6 0 0 1 10.6,10.6 V357.4" fill="none" stroke="#8c8c8c" stroke-width="4.0"/>
<path d="M556,357.4 V153.7 a10.6,10.6 0 0 1 10.6,-10.6 H579.1 a10.6,10.6 0 0 1 10.6,10.6 V357.4" fill="none" stroke="#a6a6a6" stroke-width="1.3"/>
<rect x="585.7" y="228" width="15.299999999999955" height="6.5" fill="#505050" stroke="#2a2a2a" stroke-width="0.8"/>
<circle cx="594.4" cy="231.2" r="1.2" fill="#111"/>
<path d="M598.5,234.5 V401.3" fill="none" stroke="#3e3e3e" stroke-width="3.0"/>
<path d="M598.5,234.5 V401.3" fill="none" stroke="#6e6e6e" stroke-width="1.4"/>
<path d="M601,231.2 H617 a10,10 0 0 1 10,10 V445.6" fill="none" stroke="#353535" stroke-width="6.3" stroke-linecap="butt"/>
<path d="M601,231.2 H617 a10,10 0 0 1 10,10 V445.6" fill="none" stroke="#8c8c8c" stroke-width="3.9"/>
<path d="M601,231.2 H617 a10,10 0 0 1 10,10 V445.6" fill="none" stroke="#a6a6a6" stroke-width="1.3"/>
<rect x="623.4" y="316" width="11.600000000000023" height="6.399999999999977" fill="#505050" stroke="#2a2a2a" stroke-width="0.8"/>
<circle cx="630.2" cy="319.2" r="1.2" fill="#111"/>
<path d="M635.3,322.4 V489.4" fill="none" stroke="#3e3e3e" stroke-width="3.0"/>
<path d="M635.3,322.4 V489.4" fill="none" stroke="#6e6e6e" stroke-width="1.4"/>
<path d="M635,319.2 H639.5 a10,10 0 0 1 10,10 V489.4" fill="none" stroke="#353535" stroke-width="6.3" stroke-linecap="butt"/>
<path d="M635,319.2 H639.5 a10,10 0 0 1 10,10 V489.4" fill="none" stroke="#8c8c8c" stroke-width="3.9"/>
<path d="M635,319.2 H639.5 a10,10 0 0 1 10,10 V489.4" fill="none" stroke="#a6a6a6" stroke-width="1.3"/>
<rect x="646.6" y="403.8" width="9.600000000000023" height="6.800000000000011" fill="#505050" stroke="#2a2a2a" stroke-width="0.8"/>
<circle cx="652.4" cy="407.2" r="1.2" fill="#111"/>
<path d="M654,410.6 V489.4" fill="none" stroke="#3e3e3e" stroke-width="2.5"/>
<path d="M654,410.6 V489.4" fill="none" stroke="#6e6e6e" stroke-width="0.8999999999999999"/>
<path d="M656,407.2 H657.5 a7,7 0 0 1 7,7 V533.4" fill="none" stroke="#353535" stroke-width="6.3" stroke-linecap="butt"/>
<path d="M656,407.2 H657.5 a7,7 0 0 1 7,7 V533.4" fill="none" stroke="#8c8c8c" stroke-width="3.9"/>
<path d="M656,407.2 H657.5 a7,7 0 0 1 7,7 V533.4" fill="none" stroke="#a6a6a6" stroke-width="1.3"/>
<path d="M669,497 V533.4" fill="none" stroke="#3e3e3e" stroke-width="2.5"/>
<path d="M669,497 V533.4" fill="none" stroke="#6e6e6e" stroke-width="0.8999999999999999"/>
<rect x="537.3" y="357.4" width="61.2" height="8.3" fill="url(#tr)"/>
<rect x="537.3" y="357.4" width="29.2" height="8.3" fill="#c09676"/>
<rect x="537.7" y="357.8" width="60.4" height="7.5" fill="none" stroke="#2a1e16" stroke-width="0.8"/>
<line x1="566.5" y1="357.4" x2="566.5" y2="365.7" stroke="#7a5e48" stroke-width="0.8"/>
<rect x="566.5" y="401.3" width="72.9" height="8.3" fill="url(#tr)"/>
<rect x="566.5" y="401.3" width="13.5" height="8.3" fill="#7d6452"/>
<rect x="566.9" y="401.7" width="72.1" height="7.5" fill="none" stroke="#2a1e16" stroke-width="0.8"/>
<rect x="597" y="445.6" width="55.6" height="8.3" fill="url(#tr)"/>
<rect x="597" y="445.6" width="28.0" height="8.3" fill="#76604f"/>
<rect x="597.4" y="446.0" width="54.8" height="7.5" fill="none" stroke="#2a1e16" stroke-width="0.8"/>
<rect x="589" y="489.4" width="125.0" height="8.3" fill="url(#tr)"/>
<rect x="589" y="489.4" width="72.0" height="8.3" fill="#7d6452"/>
<rect x="589.4" y="489.8" width="124.2" height="7.5" fill="none" stroke="#2a1e16" stroke-width="0.8"/>
<rect x="604" y="533.4" width="116.3" height="8.3" fill="url(#tr)"/>
<rect x="604" y="533.4" width="93.0" height="8.3" fill="#86705e"/>
<rect x="604.4" y="533.8" width="115.5" height="7.5" fill="none" stroke="#2a1e16" stroke-width="0.8"/>
<rect x="618" y="577.5" width="153.5" height="8.3" fill="url(#tr)"/>
<rect x="618" y="577.5" width="111.0" height="8.3" fill="#8a705c"/>
<rect x="618.4" y="577.9" width="152.7" height="7.5" fill="none" stroke="#2a1e16" stroke-width="0.8"/>
<rect x="630.4" y="621.3" width="144.3" height="8.3" fill="url(#tr)"/>
<rect x="757" y="621.3" width="17.7" height="8.3" fill="#c99f80"/>
<rect x="630.8" y="621.7" width="143.5" height="7.5" fill="none" stroke="#2a1e16" stroke-width="0.8"/>
<rect x="639.7" y="665.4" width="167.0" height="8.3" fill="url(#tr)"/>
<rect x="779" y="665.4" width="27.7" height="8.3" fill="#c49a7c"/>
<rect x="640.1" y="665.8" width="166.2" height="7.5" fill="none" stroke="#2a1e16" stroke-width="0.8"/>
<rect x="647.3" y="709.5" width="157.5" height="8.3" fill="url(#tr)"/>
<rect x="647.7" y="709.9" width="156.7" height="7.5" fill="none" stroke="#2a1e16" stroke-width="0.8"/>
<rect x="651" y="753.4" width="164.0" height="8.3" fill="url(#tr)"/>
<rect x="805" y="753.4" width="10.0" height="8.3" fill="#8f7c6e"/>
<rect x="651.4" y="753.8" width="163.2" height="7.5" fill="none" stroke="#2a1e16" stroke-width="0.8"/>
<rect x="653.2" y="797.6" width="156.5" height="8.3" fill="url(#tr)"/>
<rect x="653.6" y="798.0" width="155.7" height="7.5" fill="none" stroke="#2a1e16" stroke-width="0.8"/>
<rect x="674.5" y="630" width="21.7" height="209.0" fill="url(#met)"/>
<rect x="674.5" y="837.0" width="21.7" height="2" fill="#333" opacity="0.6"/>
<rect x="655.3" y="762" width="6.4" height="35" fill="url(#met)"/>
<line x1="857.5" y1="241.9" x2="1157" y2="241.9" stroke="#666" stroke-width="1.0"/>
<line x1="896.5" y1="515.8" x2="972" y2="515.8" stroke="#666" stroke-width="1.0"/>
<line x1="857.5" y1="765.7" x2="972" y2="765.7" stroke="#666" stroke-width="1.0"/>
<line x1="860.5" y1="242" x2="860.5" y2="766" stroke="#444" stroke-width="1.0"/>
<polygon points="860.5,242.5 862.8,255.5 858.2,255.5" fill="#111"/>
<polygon points="860.5,765.3 858.2,752.3 862.8,752.3" fill="#111"/>
<line x1="900.9" y1="516" x2="900.9" y2="766" stroke="#444" stroke-width="1.0"/>
<polygon points="900.9,516.5 903.2,529.5 898.6,529.5" fill="#111"/>
<polygon points="900.9,765.3 898.6,752.3 903.2,752.3" fill="#111"/>
<line x1="1156.4" y1="196" x2="1156.4" y2="242" stroke="#666" stroke-width="1.0"/>
<line x1="1416.4" y1="196" x2="1416.4" y2="885" stroke="#888" stroke-width="1.0"/>
<line x1="1156.4" y1="199.6" x2="1416.4" y2="199.6" stroke="#444" stroke-width="1.0"/>
<polygon points="1156.9,199.6 1169.9,197.3 1169.9,201.9" fill="#111"/>
<polygon points="1415.9,199.6 1402.9,201.9 1402.9,197.3" fill="#111"/>
<line x1="963.8" y1="676" x2="963.8" y2="885" stroke="#666" stroke-width="1.0"/>
<line x1="963.8" y1="881.6" x2="1416" y2="881.6" stroke="#444" stroke-width="1.0"/>
<polygon points="964.3,881.6 977.3,879.3 977.3,883.9" fill="#111"/>
<polygon points="1415.6,881.6 1402.6,883.9 1402.6,879.3" fill="#111"/>
<path d="M932,516 A225,225 0 0 1 1157,291" fill="none" stroke="#222" stroke-width="1"/>
<polygon points="931.2,515.0 928.3,502.1 932.8,501.9" fill="#111"/>
<polygon points="1156.5,290.6 1143.4,292.2 1143.6,287.7" fill="#111"/>
<text x="0" y="0" transform="translate(1271,196) rotate(0) skewX(-6)" font-family="Liberation Sans" font-style="italic" font-size="17" fill="#111" text-anchor="middle" textLength="25" lengthAdjust="spacingAndGlyphs">726</text>
<text x="0" y="0" transform="translate(1183,878) rotate(0) skewX(-6)" font-family="Liberation Sans" font-style="italic" font-size="17" fill="#111" text-anchor="middle" textLength="32" lengthAdjust="spacingAndGlyphs">1268</text>
<text x="0" y="0" transform="translate(856,492) rotate(-90) skewX(-6)" font-family="Liberation Sans" font-style="italic" font-size="17" fill="#111" text-anchor="middle" textLength="34" lengthAdjust="spacingAndGlyphs">1467</text>
<text x="0" y="0" transform="translate(898,620.5) rotate(-90) skewX(-6)" font-family="Liberation Sans" font-style="italic" font-size="17" fill="#111" text-anchor="middle" textLength="26" lengthAdjust="spacingAndGlyphs">700</text>
<text x="0" y="0" transform="translate(996,353) rotate(-52) skewX(-10)" font-family="Liberation Sans" font-style="italic" font-size="16" fill="#111" text-anchor="middle" textLength="28" lengthAdjust="spacingAndGlyphs">90°</text>
<rect x="963" y="605.5" width="3" height="71" fill="#777" stroke="#444" stroke-width="0.6"/>
<rect x="966" y="627" width="6" height="2" fill="#666"/><rect x="966" y="653.5" width="6" height="2" fill="#666"/>
<defs><g id="gt"><rect x="195" y="13.0" width="62" height="1.2" fill="#a67b5c" opacity="0.19"/><rect x="-105" y="13.0" width="62" height="1.2" fill="#a67b5c" opacity="0.19"/><rect x="11" y="2.3" width="137" height="2.0" fill="#a67b5c" opacity="0.17"/><rect x="-289" y="2.3" width="137" height="2.0" fill="#a67b5c" opacity="0.17"/><rect x="170" y="22.0" width="42" height="3.1" fill="#a67b5c" opacity="0.24"/><rect x="-130" y="22.0" width="42" height="3.1" fill="#a67b5c" opacity="0.24"/><rect x="14" y="15.9" width="235" height="2.9" fill="#a07556" opacity="0.20"/><rect x="-286" y="15.9" width="235" height="2.9" fill="#a07556" opacity="0.20"/><rect x="168" y="21.6" width="150" height="2.5" fill="#a67b5c" opacity="0.24"/><rect x="-132" y="21.6" width="150" height="2.5" fill="#a67b5c" opacity="0.24"/><rect x="164" y="25.6" width="108" height="1.1" fill="#a67b5c" opacity="0.24"/><rect x="-136" y="25.6" width="108" height="1.1" fill="#a67b5c" opacity="0.24"/><rect x="233" y="19.9" width="142" height="2.0" fill="#c8a080" opacity="0.19"/><rect x="-67" y="19.9" width="142" height="2.0" fill="#c8a080" opacity="0.19"/><rect x="234" y="9.9" width="68" height="1.2" fill="#a07556" opacity="0.23"/><rect x="-66" y="9.9" width="68" height="1.2" fill="#a07556" opacity="0.23"/><rect x="86" y="35.0" width="183" height="3.2" fill="#a67b5c" opacity="0.22"/><rect x="-214" y="35.0" width="183" height="3.2" fill="#a67b5c" opacity="0.22"/><rect x="280" y="6.6" width="102" height="1.9" fill="#a67b5c" opacity="0.27"/><rect x="-20" y="6.6" width="102" height="1.9" fill="#a67b5c" opacity="0.27"/><rect x="94" y="22.9" width="214" height="2.5" fill="#c8a080" opacity="0.24"/><rect x="-206" y="22.9" width="214" height="2.5" fill="#c8a080" opacity="0.24"/><rect x="283" y="18.2" width="206" height="2.0" fill="#a67b5c" opacity="0.13"/><rect x="-17" y="18.2" width="206" height="2.0" fill="#a67b5c" opacity="0.13"/><rect x="298" y="28.1" width="166" height="2.8" fill="#a07556" opacity="0.26"/><rect x="-2" y="28.1" width="166" height="2.8" fill="#a07556" opacity="0.26"/><rect x="282" y="35.5" width="103" height="1.8" fill="#a67b5c" opacity="0.22"/><rect x="-18" y="35.5" width="103" height="1.8" fill="#a67b5c" opacity="0.22"/><rect x="222" y="8.7" width="90" height="1.9" fill="#c8a080" opacity="0.14"/><rect x="-78" y="8.7" width="90" height="1.9" fill="#c8a080" opacity="0.14"/><rect x="265" y="18.0" width="145" height="2.8" fill="#a07556" opacity="0.26"/><rect x="-35" y="18.0" width="145" height="2.8" fill="#a07556" opacity="0.26"/><rect x="114" y="39.5" width="173" height="1.5" fill="#a67b5c" opacity="0.16"/><rect x="-186" y="39.5" width="173" height="1.5" fill="#a67b5c" opacity="0.16"/><rect x="145" y="9.3" width="79" height="2.3" fill="#a07556" opacity="0.18"/><rect x="-155" y="9.3" width="79" height="2.3" fill="#a07556" opacity="0.18"/><rect x="183" y="5.8" width="142" height="1.7" fill="#c59c7c" opacity="0.26"/><rect x="-117" y="5.8" width="142" height="1.7" fill="#c59c7c" opacity="0.26"/><rect x="203" y="20.6" width="160" height="1.1" fill="#c8a080" opacity="0.20"/><rect x="-97" y="20.6" width="160" height="1.1" fill="#c8a080" opacity="0.20"/><rect x="120" y="15.8" width="131" height="1.4" fill="#c59c7c" opacity="0.21"/><rect x="-180" y="15.8" width="131" height="1.4" fill="#c59c7c" opacity="0.21"/><rect x="31" y="4.4" width="156" height="2.2" fill="#a67b5c" opacity="0.31"/><rect x="-269" y="4.4" width="156" height="2.2" fill="#a67b5c" opacity="0.31"/><rect x="62" y="24.5" width="45" height="1.8" fill="#a07556" opacity="0.31"/><rect x="-238" y="24.5" width="45" height="1.8" fill="#a07556" opacity="0.31"/><rect x="35" y="24.1" width="130" height="2.1" fill="#c8a080" opacity="0.22"/><rect x="-265" y="24.1" width="130" height="2.1" fill="#c8a080" opacity="0.22"/><rect x="225" y="12.5" width="60" height="2.6" fill="#c8a080" opacity="0.29"/><rect x="-75" y="12.5" width="60" height="2.6" fill="#c8a080" opacity="0.29"/><rect x="285" y="6.5" width="35" height="2.2" fill="#c59c7c" opacity="0.26"/><rect x="-15" y="6.5" width="35" height="2.2" fill="#c59c7c" opacity="0.26"/><rect x="89" y="36.6" width="189" height="2.4" fill="#a67b5c" opacity="0.26"/><rect x="-211" y="36.6" width="189" height="2.4" fill="#a67b5c" opacity="0.26"/><rect x="50" y="10.4" width="107" height="2.7" fill="#a07556" opacity="0.25"/><rect x="-250" y="10.4" width="107" height="2.7" fill="#a07556" opacity="0.25"/><rect x="227" y="24.5" width="196" height="1.4" fill="#c59c7c" opacity="0.28"/><rect x="-73" y="24.5" width="196" height="1.4" fill="#c59c7c" opacity="0.28"/><rect x="155" y="29.6" width="78" height="1.8" fill="#a67b5c" opacity="0.32"/><rect x="-145" y="29.6" width="78" height="1.8" fill="#a67b5c" opacity="0.32"/><rect x="58" y="31.6" width="129" height="2.3" fill="#a07556" opacity="0.21"/><rect x="-242" y="31.6" width="129" height="2.3" fill="#a07556" opacity="0.21"/><rect x="287" y="37.5" width="237" height="1.8" fill="#c59c7c" opacity="0.14"/><rect x="-13" y="37.5" width="237" height="1.8" fill="#c59c7c" opacity="0.14"/><rect x="145" y="18.8" width="101" height="3.2" fill="#a67b5c" opacity="0.22"/><rect x="-155" y="18.8" width="101" height="3.2" fill="#a67b5c" opacity="0.22"/><rect x="25" y="26.1" width="198" height="2.5" fill="#c8a080" opacity="0.28"/><rect x="-275" y="26.1" width="198" height="2.5" fill="#c8a080" opacity="0.28"/><rect x="54" y="30.0" width="130" height="2.7" fill="#a07556" opacity="0.14"/><rect x="-246" y="30.0" width="130" height="2.7" fill="#a07556" opacity="0.14"/><rect x="139" y="37.8" width="182" height="2.6" fill="#a67b5c" opacity="0.26"/><rect x="-161" y="37.8" width="182" height="2.6" fill="#a67b5c" opacity="0.26"/><rect x="45" y="6.8" width="57" height="3.0" fill="#c59c7c" opacity="0.24"/><rect x="-255" y="6.8" width="57" height="3.0" fill="#c59c7c" opacity="0.24"/><rect x="281" y="23.8" width="130" height="1.3" fill="#c59c7c" opacity="0.12"/><rect x="-19" y="23.8" width="130" height="1.3" fill="#c59c7c" opacity="0.12"/><rect x="31" y="32.0" width="183" height="2.6" fill="#c59c7c" opacity="0.21"/><rect x="-269" y="32.0" width="183" height="2.6" fill="#c59c7c" opacity="0.21"/><rect x="63" y="34.9" width="203" height="1.6" fill="#a07556" opacity="0.22"/><rect x="-237" y="34.9" width="203" height="1.6" fill="#a07556" opacity="0.22"/><rect x="163" y="30.5" width="98" height="2.8" fill="#a67b5c" opacity="0.30"/><rect x="-137" y="30.5" width="98" height="2.8" fill="#a67b5c" opacity="0.30"/><rect x="175" y="14.2" width="126" height="3.0" fill="#c8a080" opacity="0.29"/><rect x="-125" y="14.2" width="126" height="3.0" fill="#c8a080" opacity="0.29"/><rect x="46" y="35.1" width="57" height="2.1" fill="#c8a080" opacity="0.28"/><rect x="-254" y="35.1" width="57" height="2.1" fill="#c8a080" opacity="0.28"/><rect x="45" y="24.3" width="193" height="1.3" fill="#a67b5c" opacity="0.23"/><rect x="-255" y="24.3" width="193" height="1.3" fill="#a67b5c" opacity="0.23"/><rect x="167" y="13.0" width="139" height="2.7" fill="#a67b5c" opacity="0.30"/><rect x="-133" y="13.0" width="139" height="2.7" fill="#a67b5c" opacity="0.30"/></g><pattern id="g1" patternUnits="userSpaceOnUse" width="300" height="40" patternTransform="rotate(90)"><use href="#gt"/></pattern><pattern id="g2" patternUnits="userSpaceOnUse" width="300" height="40" patternTransform="rotate(99)"><use href="#gt"/></pattern><pattern id="g3" patternUnits="userSpaceOnUse" width="300" height="40" patternTransform="rotate(108)"><use href="#gt"/></pattern><pattern id="g4" patternUnits="userSpaceOnUse" width="300" height="40" patternTransform="rotate(117)"><use href="#gt"/></pattern><pattern id="g5" patternUnits="userSpaceOnUse" width="300" height="40" patternTransform="rotate(126)"><use href="#gt"/></pattern><pattern id="g6" patternUnits="userSpaceOnUse" width="300" height="40" patternTransform="rotate(135)"><use href="#gt"/></pattern><pattern id="g7" patternUnits="userSpaceOnUse" width="300" height="40" patternTransform="rotate(144)"><use href="#gt"/></pattern><pattern id="g8" patternUnits="userSpaceOnUse" width="300" height="40" patternTransform="rotate(153)"><use href="#gt"/></pattern><pattern id="g9" patternUnits="userSpaceOnUse" width="300" height="40" patternTransform="rotate(162)"><use href="#gt"/></pattern><pattern id="g10" patternUnits="userSpaceOnUse" width="300" height="40" patternTransform="rotate(171)"><use href="#gt"/></pattern><pattern id="g11" patternUnits="userSpaceOnUse" width="300" height="40" patternTransform="rotate(180)"><use href="#gt"/></pattern></defs>
<path d="M1157.00,242.00 L1240.00,242.00 C1281.25,242.00 1281.25,290.30 1322.50,290.30 L1406.80,290.30 L1406.80,338.00 L1157.00,338.00 Z" fill="#c19576"/>
<path d="M1157.00,242.00 L1240.00,242.00 C1281.25,242.00 1281.25,290.30 1322.50,290.30 L1406.80,290.30 L1406.80,338.00 L1157.00,338.00 Z" fill="url(#g1)"/>
<path d="M1157.00,242.00 L1240.00,242.00 C1281.25,242.00 1281.25,290.30 1322.50,290.30 L1406.80,290.30 L1406.80,338.00 L1157.00,338.00 Z" fill="none" stroke="#d2ab8c" stroke-width="3" opacity="0.35"/>
<path d="M1157.00,242.00 L1240.00,242.00 C1281.25,242.00 1281.25,290.30 1322.50,290.30 L1406.80,290.30 L1406.80,338.00 L1157.00,338.00 Z" fill="none" stroke="#2e2018" stroke-width="1"/>
<path d="M1161.68,319.24 L1243.66,332.22 C1284.40,338.67 1291.96,290.97 1332.70,297.42 L1415.96,310.61 L1400.94,405.43 L1154.22,366.35 Z" fill="#c19576"/>
<path d="M1161.68,319.24 L1243.66,332.22 C1284.40,338.67 1291.96,290.97 1332.70,297.42 L1415.96,310.61 L1400.94,405.43 L1154.22,366.35 Z" fill="url(#g2)"/>
<path d="M1161.68,319.24 L1243.66,332.22 C1284.40,338.67 1291.96,290.97 1332.70,297.42 L1415.96,310.61 L1400.94,405.43 L1154.22,366.35 Z" fill="none" stroke="#d2ab8c" stroke-width="3" opacity="0.35"/>
<path d="M1161.68,319.24 L1243.66,332.22 C1284.40,338.67 1291.96,290.97 1332.70,297.42 L1415.96,310.61 L1400.94,405.43 L1154.22,366.35 Z" fill="none" stroke="#2e2018" stroke-width="1"/>
<path d="M1176.70,302.61 L1255.64,328.26 C1294.87,341.01 1279.94,386.95 1319.18,399.69 L1399.35,425.74 L1384.61,471.11 L1147.04,393.92 Z" fill="#c19576"/>
<path d="M1176.70,302.61 L1255.64,328.26 C1294.87,341.01 1279.94,386.95 1319.18,399.69 L1399.35,425.74 L1384.61,471.11 L1147.04,393.92 Z" fill="url(#g3)"/>
<path d="M1176.70,302.61 L1255.64,328.26 C1294.87,341.01 1279.94,386.95 1319.18,399.69 L1399.35,425.74 L1384.61,471.11 L1147.04,393.92 Z" fill="none" stroke="#d2ab8c" stroke-width="3" opacity="0.35"/>
<path d="M1176.70,302.61 L1255.64,328.26 C1294.87,341.01 1279.94,386.95 1319.18,399.69 L1399.35,425.74 L1384.61,471.11 L1147.04,393.92 Z" fill="none" stroke="#2e2018" stroke-width="1"/>
<path d="M1157.28,377.52 L1231.24,415.20 C1267.99,433.93 1289.92,390.89 1326.67,409.62 L1401.79,447.89 L1358.20,533.42 L1135.63,420.02 Z" fill="#c19576"/>
<path d="M1157.28,377.52 L1231.24,415.20 C1267.99,433.93 1289.92,390.89 1326.67,409.62 L1401.79,447.89 L1358.20,533.42 L1135.63,420.02 Z" fill="url(#g4)"/>
<path d="M1157.28,377.52 L1231.24,415.20 C1267.99,433.93 1289.92,390.89 1326.67,409.62 L1401.79,447.89 L1358.20,533.42 L1135.63,420.02 Z" fill="none" stroke="#d2ab8c" stroke-width="3" opacity="0.35"/>
<path d="M1157.28,377.52 L1231.24,415.20 C1267.99,433.93 1289.92,390.89 1326.67,409.62 L1401.79,447.89 L1358.20,533.42 L1135.63,420.02 Z" fill="none" stroke="#2e2018" stroke-width="1"/>
<path d="M1176.71,366.35 L1243.86,415.14 C1277.23,439.38 1248.84,478.46 1282.21,502.70 L1350.41,552.25 L1322.37,590.84 L1120.28,444.01 Z" fill="#c19576"/>
<path d="M1176.71,366.35 L1243.86,415.14 C1277.23,439.38 1248.84,478.46 1282.21,502.70 L1350.41,552.25 L1322.37,590.84 L1120.28,444.01 Z" fill="url(#g5)"/>
<path d="M1176.71,366.35 L1243.86,415.14 C1277.23,439.38 1248.84,478.46 1282.21,502.70 L1350.41,552.25 L1322.37,590.84 L1120.28,444.01 Z" fill="none" stroke="#d2ab8c" stroke-width="3" opacity="0.35"/>
<path d="M1176.71,366.35 L1243.86,415.14 C1277.23,439.38 1248.84,478.46 1282.21,502.70 L1350.41,552.25 L1322.37,590.84 L1120.28,444.01 Z" fill="none" stroke="#2e2018" stroke-width="1"/>
<path d="M1135.09,431.59 L1193.78,490.28 C1222.95,519.44 1257.11,485.29 1286.27,514.46 L1345.88,574.07 L1278.00,641.95 L1101.37,465.31 Z" fill="#c19576"/>
<path d="M1135.09,431.59 L1193.78,490.28 C1222.95,519.44 1257.11,485.29 1286.27,514.46 L1345.88,574.07 L1278.00,641.95 L1101.37,465.31 Z" fill="url(#g6)"/>
<path d="M1135.09,431.59 L1193.78,490.28 C1222.95,519.44 1257.11,485.29 1286.27,514.46 L1345.88,574.07 L1278.00,641.95 L1101.37,465.31 Z" fill="none" stroke="#d2ab8c" stroke-width="3" opacity="0.35"/>
<path d="M1135.09,431.59 L1193.78,490.28 C1222.95,519.44 1257.11,485.29 1286.27,514.46 L1345.88,574.07 L1278.00,641.95 L1101.37,465.31 Z" fill="none" stroke="#2e2018" stroke-width="1"/>
<path d="M1157.02,426.97 L1205.80,494.11 C1230.05,527.49 1190.97,555.88 1215.22,589.25 L1264.77,657.45 L1226.18,685.49 L1079.35,483.39 Z" fill="#c19576"/>
<path d="M1157.02,426.97 L1205.80,494.11 C1230.05,527.49 1190.97,555.88 1215.22,589.25 L1264.77,657.45 L1226.18,685.49 L1079.35,483.39 Z" fill="url(#g7)"/>
<path d="M1157.02,426.97 L1205.80,494.11 C1230.05,527.49 1190.97,555.88 1215.22,589.25 L1264.77,657.45 L1226.18,685.49 L1079.35,483.39 Z" fill="none" stroke="#d2ab8c" stroke-width="3" opacity="0.35"/>
<path d="M1157.02,426.97 L1205.80,494.11 C1230.05,527.49 1190.97,555.88 1215.22,589.25 L1264.77,657.45 L1226.18,685.49 L1079.35,483.39 Z" fill="none" stroke="#2e2018" stroke-width="1"/>
<path d="M1097.28,476.15 L1134.96,550.10 C1153.69,586.86 1196.73,564.93 1215.45,601.69 L1253.72,676.80 L1168.19,720.38 L1054.78,497.81 Z" fill="#c19576"/>
<path d="M1097.28,476.15 L1134.96,550.10 C1153.69,586.86 1196.73,564.93 1215.45,601.69 L1253.72,676.80 L1168.19,720.38 L1054.78,497.81 Z" fill="url(#g8)"/>
<path d="M1097.28,476.15 L1134.96,550.10 C1153.69,586.86 1196.73,564.93 1215.45,601.69 L1253.72,676.80 L1168.19,720.38 L1054.78,497.81 Z" fill="none" stroke="#d2ab8c" stroke-width="3" opacity="0.35"/>
<path d="M1097.28,476.15 L1134.96,550.10 C1153.69,586.86 1196.73,564.93 1215.45,601.69 L1253.72,676.80 L1168.19,720.38 L1054.78,497.81 Z" fill="none" stroke="#2e2018" stroke-width="1"/>
<path d="M1125.03,495.37 L1150.68,574.30 C1163.42,613.54 1117.49,628.46 1130.24,667.69 L1156.29,747.87 L1110.92,762.61 L1033.73,525.03 Z" fill="#c19576"/>
<path d="M1125.03,495.37 L1150.68,574.30 C1163.42,613.54 1117.49,628.46 1130.24,667.69 L1156.29,747.87 L1110.92,762.61 L1033.73,525.03 Z" fill="url(#g9)"/>
<path d="M1125.03,495.37 L1150.68,574.30 C1163.42,613.54 1117.49,628.46 1130.24,667.69 L1156.29,747.87 L1110.92,762.61 L1033.73,525.03 Z" fill="none" stroke="#d2ab8c" stroke-width="3" opacity="0.35"/>
<path d="M1125.03,495.37 L1150.68,574.30 C1163.42,613.54 1117.49,628.46 1130.24,667.69 L1156.29,747.87 L1110.92,762.61 L1033.73,525.03 Z" fill="none" stroke="#2e2018" stroke-width="1"/>
<path d="M1047.55,506.85 L1060.53,588.83 C1066.99,629.57 1114.69,622.02 1121.14,662.76 L1134.33,746.02 L1039.51,761.04 L1000.44,514.31 Z" fill="#c19576"/>
<path d="M1047.55,506.85 L1060.53,588.83 C1066.99,629.57 1114.69,622.02 1121.14,662.76 L1134.33,746.02 L1039.51,761.04 L1000.44,514.31 Z" fill="url(#g10)"/>
<path d="M1047.55,506.85 L1060.53,588.83 C1066.99,629.57 1114.69,622.02 1121.14,662.76 L1134.33,746.02 L1039.51,761.04 L1000.44,514.31 Z" fill="none" stroke="#d2ab8c" stroke-width="3" opacity="0.35"/>
<path d="M1047.55,506.85 L1060.53,588.83 C1066.99,629.57 1114.69,622.02 1121.14,662.76 L1134.33,746.02 L1039.51,761.04 L1000.44,514.31 Z" fill="none" stroke="#2e2018" stroke-width="1"/>
<path d="M1068.00,516.00 L1068.00,599.00 C1068.00,640.25 1019.70,640.25 1019.70,681.50 L1019.70,765.80 L972.00,765.80 L972.00,516.00 Z" fill="#c19576"/>
<path d="M1068.00,516.00 L1068.00,599.00 C1068.00,640.25 1019.70,640.25 1019.70,681.50 L1019.70,765.80 L972.00,765.80 L972.00,516.00 Z" fill="url(#g11)"/>
<path d="M1068.00,516.00 L1068.00,599.00 C1068.00,640.25 1019.70,640.25 1019.70,681.50 L1019.70,765.80 L972.00,765.80 L972.00,516.00 Z" fill="none" stroke="#d2ab8c" stroke-width="3" opacity="0.35"/>
<path d="M1068.00,516.00 L1068.00,599.00 C1068.00,640.25 1019.70,640.25 1019.70,681.50 L1019.70,765.80 L972.00,765.80 L972.00,516.00 Z" fill="none" stroke="#2e2018" stroke-width="1"/>
<path d="M1164.5,254.4 L1176.4,301 L1179.8,314.7 L1177.2,364 L1175.7,382 L1159.6,426.2 L1151.2,443.1 L1124,492.3 L1117.2,507.6 L1071.4,518.6 L1057.9,522 L998.5,523.7" fill="none" stroke="#262626" stroke-width="8.5" stroke-linecap="round" stroke-linejoin="round"/>
<path d="M1164.5,254.4 L1176.4,301 L1179.8,314.7 L1177.2,364 L1175.7,382 L1159.6,426.2 L1151.2,443.1 L1124,492.3 L1117.2,507.6 L1071.4,518.6 L1057.9,522 L998.5,523.7" fill="none" stroke="#727272" stroke-width="5.8" stroke-linecap="round" stroke-linejoin="round"/>
<path d="M1164.5,254.4 L1176.4,301 L1179.8,314.7 L1177.2,364 L1175.7,382 L1159.6,426.2 L1151.2,443.1 L1124,492.3 L1117.2,507.6 L1071.4,518.6 L1057.9,522 L998.5,523.7" fill="none" stroke="#a2a2a2" stroke-width="1.8" stroke-linecap="round" stroke-linejoin="round" opacity="0.8"/>
<path d="M998.5,523.7 L1057.9,523" fill="none" stroke="#3a3a3a" stroke-width="11.5" stroke-linecap="round"/>
<path d="M998.5,523.7 L1057.9,523" fill="none" stroke="#8c8c8c" stroke-width="8.5" stroke-linecap="round"/>
<path d="M998.5,522.5 L1057.9,521.8" fill="none" stroke="#b4b4b4" stroke-width="2.5" stroke-linecap="round"/>
<path d="M1176.4,301 L1179.8,314.7" stroke="#222" stroke-width="10" stroke-linecap="butt"/>
<path d="M1176.4,301 L1179.8,314.7" stroke="#555" stroke-width="7.4" stroke-linecap="butt"/>
<path d="M1176.4,301 L1179.8,314.7" stroke="#8a8a8a" stroke-width="1.5" stroke-linecap="butt"/>
<path d="M1177.2,364 L1175.7,382" stroke="#222" stroke-width="10" stroke-linecap="butt"/>
<path d="M1177.2,364 L1175.7,382" stroke="#555" stroke-width="7.4" stroke-linecap="butt"/>
<path d="M1177.2,364 L1175.7,382" stroke="#8a8a8a" stroke-width="1.5" stroke-linecap="butt"/>
<path d="M1159.6,426.2 L1151.2,443.1" stroke="#222" stroke-width="10" stroke-linecap="butt"/>
<path d="M1159.6,426.2 L1151.2,443.1" stroke="#555" stroke-width="7.4" stroke-linecap="butt"/>
<path d="M1159.6,426.2 L1151.2,443.1" stroke="#8a8a8a" stroke-width="1.5" stroke-linecap="butt"/>
<path d="M1124,492.3 L1117.2,507.6" stroke="#222" stroke-width="10" stroke-linecap="butt"/>
<path d="M1124,492.3 L1117.2,507.6" stroke="#555" stroke-width="7.4" stroke-linecap="butt"/>
<path d="M1124,492.3 L1117.2,507.6" stroke="#8a8a8a" stroke-width="1.5" stroke-linecap="butt"/>
<path d="M1071.4,518.6 L1057.9,522" stroke="#222" stroke-width="10" stroke-linecap="butt"/>
<path d="M1071.4,518.6 L1057.9,522" stroke="#555" stroke-width="7.4" stroke-linecap="butt"/>
<path d="M1071.4,518.6 L1057.9,522" stroke="#8a8a8a" stroke-width="1.5" stroke-linecap="butt"/>
<text x="0" y="0" transform="translate(1233,293.3) skewX(-6)" font-family="Liberation Sans" font-style="italic" font-size="24" fill="#111" text-anchor="middle" textLength="9" lengthAdjust="spacingAndGlyphs">1</text>
<text x="0" y="0" transform="translate(1351,361) skewX(-6)" font-family="Liberation Sans" font-style="italic" font-size="24" fill="#111" text-anchor="middle" textLength="13.5" lengthAdjust="spacingAndGlyphs">2</text>
<text x="0" y="0" transform="translate(1251.5,385) skewX(-6)" font-family="Liberation Sans" font-style="italic" font-size="24" fill="#111" text-anchor="middle" textLength="12.5" lengthAdjust="spacingAndGlyphs">3</text>
<text x="0" y="0" transform="translate(1186.5,658.5) skewX(-6)" font-family="Liberation Sans" font-style="italic" font-size="24" fill="#111" text-anchor="middle" textLength="12" lengthAdjust="spacingAndGlyphs">8</text>
<text x="0" y="0" transform="translate(1024.5,613.5) skewX(-6)" font-family="Liberation Sans" font-style="italic" font-size="24" fill="#111" text-anchor="middle" textLength="17" lengthAdjust="spacingAndGlyphs">11</text>
<defs><mask id="wring" maskUnits="userSpaceOnUse" x="0" y="0" width="1500" height="1061"><rect width="1500" height="1061" fill="#000"/><g transform="translate(586,667) rotate(-35.6)"><text font-family="Liberation Sans" font-weight="bold" font-size="61" textLength="430" lengthAdjust="spacingAndGlyphs" fill="#fff" stroke="#fff" stroke-width="5.6" stroke-linejoin="round">lestnicy-prosto.ru</text><text font-family="Liberation Sans" font-weight="bold" font-size="61" textLength="430" lengthAdjust="spacingAndGlyphs" fill="#000" stroke="#000" stroke-width="2.4" stroke-linejoin="round">lestnicy-prosto.ru</text></g></mask></defs>
<rect width="1500" height="1061" fill="#000" opacity="0.27" mask="url(#wring)"/>
<g transform="translate(586,667) rotate(-35.6)"><text font-family="Liberation Sans" font-weight="bold" font-size="61" textLength="430" lengthAdjust="spacingAndGlyphs" fill="#fff" stroke="#fff" stroke-width="2.4" stroke-linejoin="round" opacity="0.3">lestnicy-prosto.ru</text></g>
</svg></body></html>
